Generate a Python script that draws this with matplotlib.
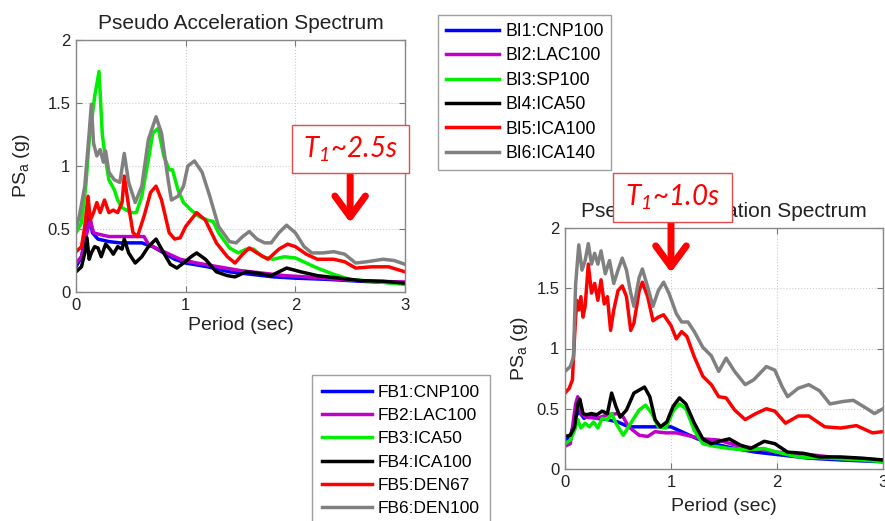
import matplotlib
matplotlib.use("Agg")
import matplotlib.pyplot as plt
from matplotlib.patches import Rectangle

plt.rcParams['font.family'] = ['Liberation Sans', 'DejaVu Sans']
plt.rcParams['mathtext.fontset'] = 'custom'
plt.rcParams['mathtext.rm'] = 'Lato:italic'
plt.rcParams['mathtext.it'] = 'Lato:italic'

# ---------------- Base-isolated (BI) spectra ----------------
bi_labels = ["BI1:CNP100", "BI2:LAC100", "BI3:SP100", "BI4:ICA50", "BI5:ICA100", "BI6:ICA140"]

bi1_t = [0, 0.05, 0.1, 0.12, 0.15, 0.2, 0.3, 0.4, 0.5, 0.6, 0.7, 0.8, 0.9, 1.0, 1.2, 1.4, 1.6, 1.8, 2.0, 2.3, 2.6, 3.0]
bi1_v = [0.20, 0.28, 0.50, 0.63, 0.47, 0.42, 0.40, 0.39, 0.39, 0.39, 0.36, 0.31, 0.26, 0.23, 0.20, 0.16, 0.14, 0.12, 0.11, 0.10, 0.085, 0.07]

bi2_t = [0, 0.05, 0.1, 0.13, 0.16, 0.2, 0.3, 0.4, 0.5, 0.62, 0.66, 0.75, 0.85, 0.95, 1.1, 1.3, 1.5, 1.7, 1.9, 2.1, 2.4, 2.7, 3.0]
bi2_v = [0.23, 0.28, 0.47, 0.57, 0.47, 0.46, 0.44, 0.44, 0.44, 0.44, 0.38, 0.34, 0.30, 0.26, 0.23, 0.20, 0.17, 0.15, 0.13, 0.12, 0.10, 0.085, 0.08]

bi3_t = [0, 0.05, 0.09, 0.12, 0.17, 0.21, 0.24, 0.27, 0.30, 0.35, 0.38, 0.42, 0.50, 0.55, 0.60, 0.66, 0.70, 0.75, 0.80, 0.85, 0.88,
         0.93, 0.98, 1.05, 1.12, 1.2, 1.25, 1.3, 1.4, 1.48, 1.55, 1.62, 1.7, 1.8, 1.9, 2.0, 2.1, 2.2, 2.35, 2.5, 2.7, 3.0]
bi3_v = [0.47, 0.55, 0.85, 1.20, 1.55, 1.75, 1.25, 1.05, 0.89, 0.81, 0.73, 0.67, 0.63, 0.63, 0.76, 1.05, 1.26, 1.30, 1.08, 0.97, 0.97,
         0.81, 0.71, 0.65, 0.60, 0.57, 0.56, 0.47, 0.35, 0.31, 0.34, 0.34, 0.28, 0.26, 0.28, 0.27, 0.23, 0.19, 0.14, 0.10, 0.085, 0.06]

bi4_t = [0, 0.05, 0.08, 0.1, 0.12, 0.14, 0.17, 0.2, 0.23, 0.27, 0.31, 0.34, 0.38, 0.42, 0.44, 0.48, 0.54, 0.60, 0.66, 0.73,
         0.80, 0.86, 0.92, 0.98, 1.05, 1.1, 1.18, 1.28, 1.38, 1.45, 1.55, 1.65, 1.78, 1.92, 2.05, 2.2, 2.4, 2.6, 2.8, 3.0]
bi4_v = [0.16, 0.20, 0.31, 0.43, 0.26, 0.31, 0.36, 0.35, 0.28, 0.38, 0.34, 0.30, 0.36, 0.34, 0.42, 0.31, 0.23, 0.28, 0.36, 0.42,
         0.31, 0.22, 0.19, 0.23, 0.28, 0.31, 0.26, 0.16, 0.13, 0.12, 0.16, 0.15, 0.13, 0.19, 0.16, 0.13, 0.11, 0.09, 0.085, 0.07]

bi5_t = [0, 0.05, 0.08, 0.11, 0.13, 0.16, 0.19, 0.22, 0.26, 0.30, 0.34, 0.38, 0.42, 0.44, 0.48, 0.52, 0.56, 0.62, 0.68, 0.73,
         0.78, 0.85, 0.90, 0.95, 1.0, 1.1, 1.18, 1.28, 1.38, 1.45, 1.52, 1.58, 1.65, 1.75, 1.85, 1.93, 2.0, 2.1, 2.2, 2.35,
         2.45, 2.55, 2.7, 2.85, 3.0]
bi5_v = [0.32, 0.36, 0.52, 0.76, 0.57, 0.63, 0.71, 0.63, 0.73, 0.63, 0.65, 0.63, 0.71, 0.92, 0.68, 0.47, 0.44, 0.60, 0.79, 0.84,
         0.73, 0.47, 0.42, 0.43, 0.52, 0.63, 0.57, 0.39, 0.28, 0.23, 0.30, 0.35, 0.31, 0.26, 0.34, 0.38, 0.36, 0.30, 0.26, 0.26,
         0.24, 0.19, 0.20, 0.20, 0.16]

bi6_t = [0, 0.03, 0.08, 0.1, 0.12, 0.14, 0.16, 0.19, 0.22, 0.25, 0.27, 0.30, 0.35, 0.40, 0.44, 0.48, 0.54, 0.60, 0.66, 0.73,
         0.78, 0.84, 0.87, 0.93, 0.98, 1.02, 1.08, 1.15, 1.22, 1.30, 1.40, 1.46, 1.52, 1.58, 1.65, 1.72, 1.78, 1.85, 1.92, 2.0,
         2.08, 2.15, 2.25, 2.35, 2.45, 2.55, 2.65, 2.8, 2.9, 3.0]
bi6_v = [0.50, 0.60, 0.84, 1.05, 1.26, 1.49, 1.18, 1.08, 1.13, 1.03, 1.12, 0.95, 0.89, 0.87, 1.10, 0.87, 0.71, 0.84, 1.21, 1.39,
         1.26, 0.89, 0.73, 0.76, 0.84, 1.00, 1.04, 0.95, 0.76, 0.52, 0.40, 0.39, 0.44, 0.48, 0.42, 0.39, 0.39, 0.47, 0.53, 0.47,
         0.36, 0.31, 0.31, 0.32, 0.30, 0.23, 0.24, 0.26, 0.25, 0.22]

# ---------------- Fixed-base (FB) spectra ----------------
fb_labels = ["FB1:CNP100", "FB2:LAC100", "FB3:ICA50", "FB4:ICA100", "FB5:DEN67", "FB6:DEN100"]

fb1_t = [0, 0.05, 0.1, 0.13, 0.18, 0.25, 0.3, 0.4, 0.5, 0.6, 0.7, 0.85, 1.0, 1.1, 1.25, 1.4, 1.6, 1.8, 2.0, 2.3, 2.6, 3.0]
fb1_v = [0.23, 0.27, 0.43, 0.48, 0.42, 0.46, 0.42, 0.41, 0.39, 0.35, 0.35, 0.35, 0.35, 0.31, 0.25, 0.21, 0.17, 0.14, 0.12, 0.09, 0.075, 0.06]

fb2_t = [0, 0.05, 0.1, 0.12, 0.15, 0.2, 0.3, 0.4, 0.5, 0.55, 0.6, 0.7, 0.78, 0.85, 0.95, 1.05, 1.15, 1.3, 1.45, 1.6, 1.8, 2.0, 2.3, 2.6, 3.0]
fb2_v = [0.19, 0.21, 0.54, 0.60, 0.46, 0.43, 0.42, 0.45, 0.46, 0.43, 0.35, 0.28, 0.27, 0.31, 0.30, 0.30, 0.28, 0.25, 0.24, 0.20, 0.17, 0.14, 0.12, 0.09, 0.075]

fb3_t = [0, 0.05, 0.09, 0.12, 0.15, 0.19, 0.23, 0.27, 0.31, 0.35, 0.4, 0.44, 0.48, 0.55, 0.62, 0.7, 0.76, 0.82, 0.88, 0.95,
         1.02, 1.08, 1.14, 1.22, 1.3, 1.4, 1.55, 1.7, 1.88, 2.0, 2.2, 2.5, 2.8, 3.0]
fb3_v = [0.21, 0.24, 0.32, 0.41, 0.34, 0.38, 0.35, 0.39, 0.34, 0.42, 0.41, 0.46, 0.38, 0.28, 0.38, 0.49, 0.53, 0.46, 0.35, 0.34,
         0.48, 0.54, 0.50, 0.32, 0.21, 0.19, 0.17, 0.16, 0.17, 0.14, 0.10, 0.09, 0.075, 0.06]

fb4_t = [0, 0.05, 0.09, 0.12, 0.14, 0.17, 0.2, 0.25, 0.3, 0.35, 0.4, 0.44, 0.48, 0.52, 0.58, 0.65, 0.75, 0.8, 0.85, 0.9,
         0.96, 1.02, 1.08, 1.14, 1.22, 1.3, 1.38, 1.45, 1.55, 1.65, 1.75, 1.88, 1.98, 2.1, 2.25, 2.4, 2.6, 2.8, 3.0]
fb4_v = [0.27, 0.28, 0.35, 0.54, 0.58, 0.46, 0.45, 0.46, 0.45, 0.48, 0.46, 0.63, 0.52, 0.43, 0.49, 0.63, 0.68, 0.60, 0.41, 0.35,
         0.39, 0.52, 0.59, 0.54, 0.38, 0.25, 0.21, 0.23, 0.25, 0.20, 0.17, 0.23, 0.21, 0.14, 0.13, 0.10, 0.10, 0.09, 0.075]

fb5_t = [0, 0.04, 0.07, 0.09, 0.11, 0.13, 0.15, 0.17, 0.19, 0.22, 0.25, 0.28, 0.31, 0.34, 0.37, 0.40, 0.43, 0.46, 0.50, 0.54,
         0.58, 0.62, 0.65, 0.70, 0.73, 0.78, 0.83, 0.88, 0.93, 1.0, 1.05, 1.1, 1.15, 1.22, 1.3, 1.38, 1.45, 1.52, 1.6, 1.7,
         1.8, 1.9, 1.98, 2.08, 2.2, 2.3, 2.45, 2.6, 2.75, 2.9, 3.0]
fb5_v = [0.63, 0.67, 0.74, 1.10, 1.40, 1.32, 1.43, 1.26, 1.35, 1.70, 1.46, 1.54, 1.40, 1.57, 1.37, 1.43, 1.15, 1.32, 1.48, 1.52,
         1.43, 1.15, 1.21, 1.48, 1.55, 1.43, 1.23, 1.26, 1.28, 1.19, 1.08, 1.14, 1.10, 0.93, 0.77, 0.70, 0.60, 0.59, 0.49, 0.41,
         0.46, 0.50, 0.48, 0.38, 0.44, 0.44, 0.35, 0.34, 0.36, 0.30, 0.31]

fb6_t = [0, 0.05, 0.08, 0.1, 0.13, 0.16, 0.19, 0.22, 0.25, 0.28, 0.31, 0.34, 0.38, 0.42, 0.46, 0.50, 0.54, 0.58, 0.62, 0.65,
         0.7, 0.73, 0.78, 0.83, 0.88, 0.93, 0.98, 1.05, 1.1, 1.16, 1.22, 1.3, 1.38, 1.45, 1.52, 1.6, 1.7, 1.78, 1.9, 1.98,
         2.05, 2.1, 2.2, 2.3, 2.4, 2.5, 2.62, 2.72, 2.85, 2.92, 3.0]
fb6_v = [0.81, 0.85, 0.93, 1.53, 1.86, 1.65, 1.73, 1.87, 1.70, 1.79, 1.70, 1.81, 1.62, 1.73, 1.54, 1.65, 1.75, 1.65, 1.46, 1.35,
         1.59, 1.66, 1.51, 1.35, 1.48, 1.55, 1.46, 1.29, 1.22, 1.22, 1.14, 1.01, 0.94, 0.81, 0.92, 0.81, 0.70, 0.74, 0.85, 0.82,
         0.68, 0.60, 0.67, 0.70, 0.65, 0.54, 0.56, 0.57, 0.50, 0.46, 0.50]

colors = ["#0000ff", "#c000c8", "#00ee00", "#000000", "#ff0000", "#808080"]

bi_series = [(bi1_t, bi1_v), (bi2_t, bi2_v), (bi3_t, bi3_v), (bi4_t, bi4_v), (bi5_t, bi5_v), (bi6_t, bi6_v)]
fb_series = [(fb1_t, fb1_v), (fb2_t, fb2_v), (fb3_t, fb3_v), (fb4_t, fb4_v), (fb5_t, fb5_v), (fb6_t, fb6_v)]

W, H = 885, 521
fig = plt.figure(figsize=(W / 100, H / 100), dpi=100)


def fx(px):
    return px / W


def fy(py):
    return 1 - py / H


def style_axes(ax):
    ax.set_xlim(0, 3)
    ax.set_ylim(0, 2)
    ax.set_xticks([0, 1, 2, 3])
    ax.set_yticks([0, 0.5, 1, 1.5, 2])
    ax.set_yticklabels(["0", "0.5", "1", "1.5", "2"])
    ax.tick_params(direction="in", length=4, width=0.8, colors="#777777", labelcolor="#222222",
                   labelsize=12, top=True, right=True, pad=4)
    for s in ax.spines.values():
        s.set_color("#888888")
        s.set_linewidth(1.0)
    ax.grid(True, ls=":", color="#cccccc", lw=0.8)
    ax.set_axisbelow(True)


# Left axes (BI)
axL = fig.add_axes([fx(76), fy(292), fx(405) - fx(76), fy(40) - fy(292)])
linesL = []
for (t, v), c, lab in zip(bi_series, colors, bi_labels):
    ln, = axL.plot(t, v, color=c, lw=2.5, label=lab, solid_joinstyle="round")
    linesL.append(ln)
style_axes(axL)
axL.set_title("Pseudo Acceleration Spectrum", fontsize=15, pad=8, color="#222222")
axL.set_xlabel("Period (sec)", fontsize=14, labelpad=3, color="#222222")
axL.set_ylabel("PS$_\\mathregular{a}$ (g)", family="Liberation Sans", fontsize=14, labelpad=11, color="#222222")

# Right axes (FB)
axR = fig.add_axes([fx(565), fy(469), fx(883) - fx(565), fy(228) - fy(469)])
linesR = []
for (t, v), c, lab in zip(fb_series, colors, fb_labels):
    ln, = axR.plot(t, v, color=c, lw=2.5, label=lab, solid_joinstyle="round")
    linesR.append(ln)
style_axes(axR)
axR.set_title("Pseudo Acceleration Spectrum", fontsize=15, pad=8, color="#222222")
axR.set_xlabel("Period (sec)", fontsize=14, labelpad=6, color="#222222")
axR.set_ylabel("PS$_\\mathregular{a}$ (g)", fontsize=14, labelpad=5, color="#222222")

# Legends
legL = fig.legend(linesL, bi_labels, loc="upper left", bbox_to_anchor=(fx(438), fy(15)),
                  fontsize=12.7, frameon=True, fancybox=False, edgecolor="#888888",
                  handlelength=3.0, handletextpad=0.35, labelspacing=0.42, borderpad=0.45,
                  borderaxespad=0)
legL.get_frame().set_linewidth(1.0)
legR = fig.legend(linesR, fb_labels, loc="upper left", bbox_to_anchor=(fx(312), fy(375)),
                  fontsize=12.5, frameon=True, fancybox=False, edgecolor="#888888",
                  handlelength=2.9, handletextpad=0.35, labelspacing=0.47, borderpad=0.55,
                  borderaxespad=0)
legR.get_frame().set_linewidth(1.0)

# Red annotation boxes
for (x0, y0, x1, y1, txt) in [(292, 125, 409, 173, "T$_{1}$~2.5s"), (613, 173, 732, 222, "T$_{1}$~1.0s")]:
    rect = Rectangle((fx(x0), fy(y1)), fx(x1) - fx(x0), fy(y0) - fy(y1), transform=fig.transFigure,
                     facecolor="white", edgecolor="#e8484a", lw=1.0, zorder=10)
    fig.add_artist(rect)
    fig.text(fx((x0 + x1) / 2), fy((y0 + y1) / 2), txt, color="#ff0000", fontsize=20,
             fontstyle="italic", family="Lato", ha="center", va="center", zorder=11)

arrow_style = dict(arrowstyle="->,head_length=0.75,head_width=0.55", color="#ff0000", lw=5,
                   mutation_scale=20, shrinkA=0, shrinkB=0)
axL.annotate("", xy=(2.5, 0.55), xytext=(2.5, 0.93), xycoords="data",
             arrowprops=arrow_style, annotation_clip=False, zorder=12)
axR.annotate("", xy=(1.0, 1.63), xytext=(1.0, 2.05), xycoords="data",
             arrowprops=arrow_style, annotation_clip=False, zorder=12)

fig.savefig("out.png", dpi=100)
